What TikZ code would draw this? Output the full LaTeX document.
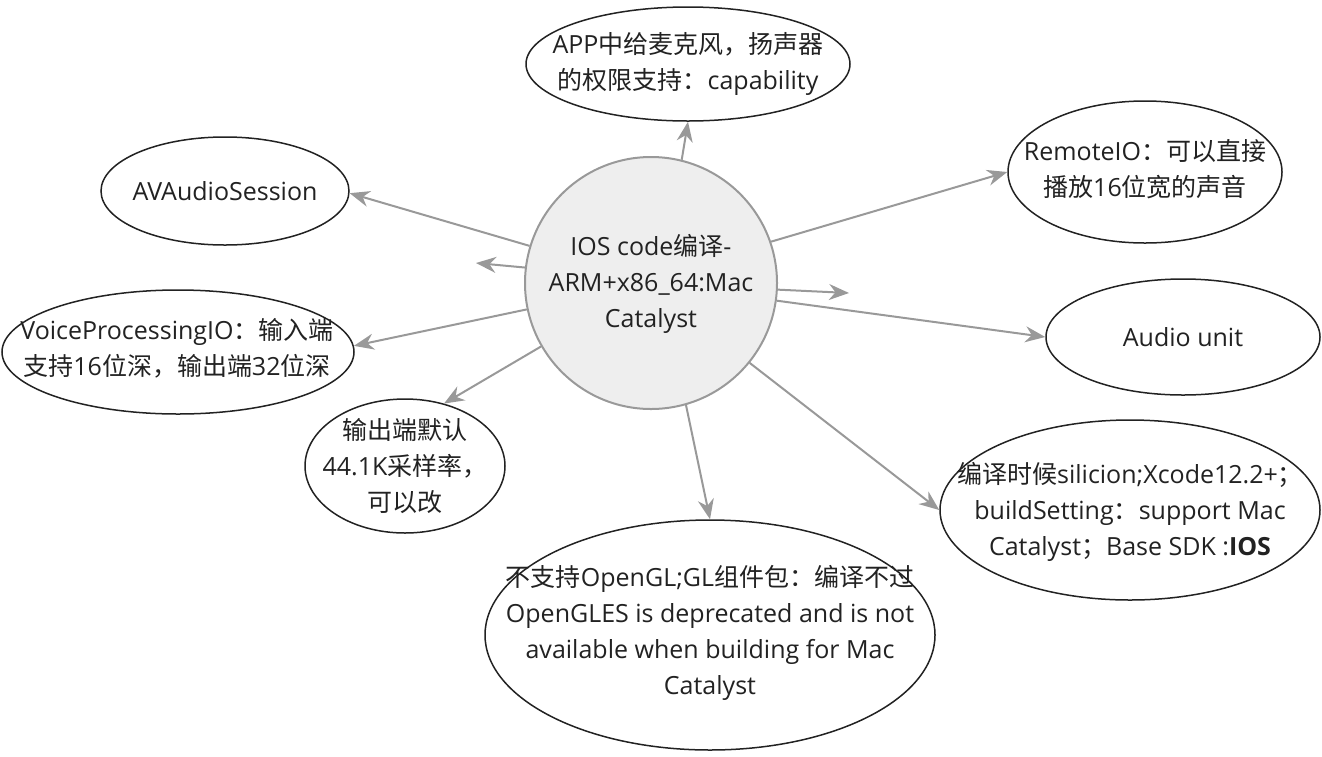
\documentclass[tikz,border=0pt]{standalone}
\usepackage{fontspec}
\usepackage{xcolor}
\usepackage{tikz}
\usetikzlibrary{arrows.meta, shapes.geometric}
\setmainfont{Open Sans}
\newfontfamily\zhfont{Noto Sans CJK SC}
\newcommand{\zh}[1]{{\zhfont #1}}
\definecolor{edgegray}{RGB}{153, 153, 153}
\definecolor{hubfill}{RGB}{238, 238, 238}
\definecolor{inkdark}{RGB}{34, 34, 34}

\begin{document}
\begin{tikzpicture}[x=1pt, y=-1pt, >={Stealth[length=20pt, width=16pt]},
  bubble/.style={ellipse, draw=inkdark, line width=1.5pt, fill=white, inner sep=0pt},
  hub/.style={circle, draw=edgegray, line width=2pt, fill=hubfill,
              minimum size=252pt, inner sep=0pt},
  txt/.style={font=\fontsize{25}{36}\selectfont, text=inkdark, align=center, inner sep=0pt},
  link/.style={->, edgegray, line width=2pt}]
  \useasboundingbox (0,0) rectangle (1322,756);

  % central topic
  \node[hub] (hub) at (651, 283) {};
  \node[txt] (hub-t) at (651, 284) {IOS code\zh{编译}-\\ARM+x86\_64:Mac\\Catalyst};

  % surrounding topics
  \node[bubble, minimum width=324pt, minimum height=114pt] (app) at (688, 64) {};
  \node[txt] (app-t) at (688, 64) {APP\zh{中给麦克风，扬声器}\\\zh{的权限支持：}capability};

  \node[bubble, minimum width=248pt, minimum height=108pt] (av) at (225, 191) {};
  \node[txt] (av-t) at (225, 191) {AVAudioSession};

  \node[bubble, minimum width=274pt, minimum height=142pt] (rio) at (1145, 172) {};
  \node[txt] (rio-t) at (1145, 169) {RemoteIO\zh{：可以直接}\\\zh{播放}16\zh{位宽的声音}};

  \node[bubble, minimum width=352pt, minimum height=124pt] (vp) at (178, 352) {};
  \node[txt] (vp-t) at (177, 348) {VoiceProcessingIO\zh{：输入端}\\\zh{支持}16\zh{位深，输出端}32\zh{位深}};

  \node[bubble, minimum width=274pt, minimum height=116pt] (au) at (1183, 337) {};
  \node[txt] (au-t) at (1183, 337) {Audio unit};

  \node[bubble, minimum width=200pt, minimum height=134pt] (out) at (405, 466) {};
  \node[txt] (out-t) at (405, 466) {\zh{输出端默认}\\44.1K\zh{采样率，}\\\zh{可以改}};

  \node[bubble, minimum width=380pt, minimum height=180pt] (xc) at (1130, 510) {};
  \node[txt] (xc-t) at (1130, 512) {\zh{编译时候}silicion;Xcode12.2+\zh{；}\\buildSetting\zh{：}support Mac\\Catalyst\zh{；}Base SDK :\textbf{IOS}};

  \node[bubble, minimum width=450pt, minimum height=230pt] (gl) at (710, 635) {};
  \node[txt] (gl-t) at (710, 633) {\zh{不支持}OpenGL;GL\zh{组件包：编译不过}\\OpenGLES is deprecated and is not\\available when building for Mac\\Catalyst};

  % loose ends
  \coordinate (freeL) at (476, 263);
  \coordinate (freeR) at (849, 293);

  % links
  \draw[link] (hub.76) -- (app.south);
  \draw[link] (hub.163) -- (av.-1);
  \draw[link] (hub.173) -- (freeL);
  \draw[link] (hub.192) -- (vp.2);
  \draw[link] (hub.210) -- (out.58);
  \draw[link] (hub.286) -- (gl.north);
  \draw[link] (hub.19) -- (rio.west);
  \draw[link] (hub.-3) -- (freeR);
  \draw[link] (hub.-8) -- (au.west);
  \draw[link] (hub.-39) -- (xc.west);
\end{tikzpicture}
\end{document}
